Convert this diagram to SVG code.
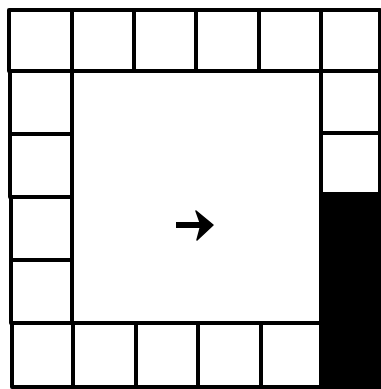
<svg xmlns="http://www.w3.org/2000/svg" width="381" height="389" viewBox="0 0 381 389">
<style>
.c{fill:#fff;stroke:#000;stroke-width:4;stroke-linejoin:round}
.k{fill:#000;stroke:#000;stroke-width:4}
</style>
<rect width="381" height="389" fill="#fff"/>
<g id="top-row">
<rect id="t1" class="c" x="9" y="10" width="63" height="61"/>
<rect id="t2" class="c" x="72" y="10" width="62" height="61"/>
<rect id="t3" class="c" x="134" y="10" width="62" height="61"/>
<rect id="t4" class="c" x="196" y="10" width="63" height="61"/>
<rect id="t5" class="c" x="259" y="10" width="62" height="61"/>
<rect id="t6" class="c" x="321" y="10" width="59" height="61"/>
</g>
<g id="left-col">
<rect id="l2" class="c" x="10" y="71" width="62" height="63"/>
<rect id="l3" class="c" x="10" y="134" width="62" height="63"/>
<rect id="l4" class="c" x="11" y="197" width="62" height="63"/>
<rect id="l5" class="c" x="11" y="260" width="62" height="63"/>
</g>
<g id="bottom-row">
<rect id="b1" class="c" x="12" y="323" width="61" height="64"/>
<rect id="b2" class="c" x="73" y="323" width="63" height="64"/>
<rect id="b3" class="c" x="136" y="323" width="62" height="64"/>
<rect id="b4" class="c" x="198" y="323" width="63" height="64"/>
<rect id="b5" class="c" x="261" y="323" width="60" height="64"/>
</g>
<g id="right-col">
<rect id="r2" class="c" x="321" y="71" width="59" height="62"/>
<rect id="r3" class="c" x="321" y="133" width="59" height="61"/>
<rect id="black" class="k" x="321" y="194" width="62" height="197"/>
</g>
<g id="center">
<rect class="c" x="72" y="71" width="249" height="252"/>
</g>
<g id="arrow">
<rect x="176" y="222" width="25" height="6" fill="#000"/>
<path d="M196,211 L213,225 L197,240 L201,225 Z" fill="#000" stroke="#000" stroke-width="1.5" stroke-linejoin="round"/>
</g>
</svg>
